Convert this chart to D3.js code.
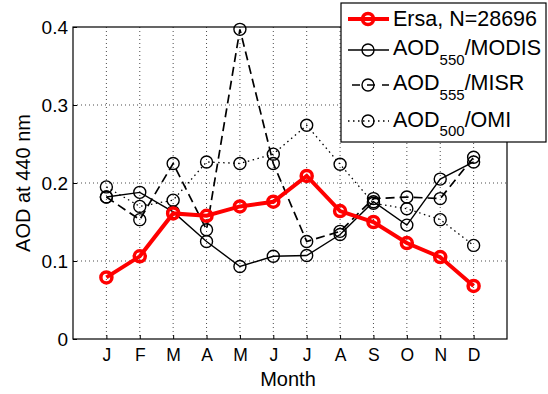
<!DOCTYPE html>
<html><head><meta charset="utf-8">
<script src="https://cdn.jsdelivr.net/npm/d3@7"></script>
<style>body{margin:0;background:#fff}svg{display:block}text{font-family:"Liberation Sans",Arial,sans-serif}</style>
</head><body><svg id="c" width="548" height="394"></svg>
<script>
const months = ["J","F","M","A","M","J","J","A","S","O","N","D"];
const ersa  = [0.079,0.106,0.161,0.158,0.170,0.176,0.209,0.164,0.150,0.123,0.105,0.068];
const modis = [0.182,0.188,0.163,0.125,0.093,0.106,0.107,0.134,0.176,0.146,0.205,0.227];
const misr  = [0.182,0.153,0.225,0.140,0.397,0.225,0.125,0.138,0.180,0.182,0.180,0.233];
const omi   = [0.195,0.170,0.178,0.227,0.225,0.237,0.274,0.224,0.174,0.167,0.153,0.120];
const yTicks = [0,0.1,0.2,0.3,0.4];
const yTickLabels = ["0","0.1","0.2","0.3","0.4"];

const svg = d3.select("#c");
const L=73,R=507,T=27,B=339;
const x = d3.scaleLinear().domain([0,13]).range([L,R]);
const y = d3.scaleLinear().domain([0,0.4]).range([B,T]);
const idx = d3.range(1,13);

// grid
svg.append("g").selectAll("line").data(idx).join("line")
  .attr("x1",d=>x(d)).attr("x2",d=>x(d)).attr("y1",T).attr("y2",B)
  .attr("stroke","#000").attr("stroke-width",1).attr("stroke-dasharray","1,3").attr("opacity",0.7);
svg.append("g").selectAll("line").data(yTicks.slice(1,4)).join("line")
  .attr("x1",L).attr("x2",R).attr("y1",d=>y(d)).attr("y2",d=>y(d))
  .attr("stroke","#000").attr("stroke-width",1).attr("stroke-dasharray","1,3").attr("opacity",0.7);

// axes
const xAxis = d3.axisBottom(x).tickValues(idx).tickFormat(d=>months[d-1]).tickSizeInner(-4).tickSizeOuter(0).tickPadding(10);
const gx = svg.append("g").attr("transform",`translate(0,${B})`).call(xAxis);
const yAxis = d3.axisLeft(y).tickValues(yTicks).tickFormat((d,i)=>yTickLabels[i]).tickSizeInner(-4).tickSizeOuter(0).tickPadding(5);
const gy = svg.append("g").attr("transform",`translate(${L},0)`).call(yAxis);
gx.selectAll("text").attr("font-size",17.5);
gy.selectAll("text").attr("font-size",19);
[gx,gy].forEach(g=>{g.selectAll("text").attr("fill","#000").style("font-family","Liberation Sans, Arial");
  g.select(".domain").remove(); g.selectAll(".tick line").attr("stroke","#000");});
svg.append("rect").attr("x",L).attr("y",T).attr("width",R-L).attr("height",B-T).attr("fill","none").attr("stroke","#000").attr("stroke-width",1.2);

svg.append("text").attr("x",288).attr("y",386).attr("text-anchor","middle").attr("font-size",20).text("Month");
svg.append("text").attr("transform","translate(30,183) rotate(-90)").attr("text-anchor","middle").attr("font-size",20).text("AOD at 440 nm");

const line = d3.line().x((d,i)=>x(i+1)).y(d=>y(d));
function series(data,color,w,dash,r,mw){
  svg.append("path").datum(data).attr("d",line).attr("fill","none").attr("stroke",color).attr("stroke-width",w).attr("stroke-dasharray",dash);
  svg.append("g").selectAll("circle").data(data).join("circle")
    .attr("cx",(d,i)=>x(i+1)).attr("cy",d=>y(d)).attr("r",r)
    .attr("fill","none").attr("stroke",color).attr("stroke-width",mw);
}
series(omi,"#000",1.3,"1.5,3.5",6,1.4);
series(misr,"#000",1.7,"9,5",6,1.4);
series(modis,"#000",1.4,null,6,1.4);
series(ersa,"#f00",4,null,5.5,3.5);

// legend
const lg = svg.append("g");
lg.append("rect").attr("x",341).attr("y",3).attr("width",205).attr("height",139).attr("fill","#fff").attr("stroke","#000").attr("stroke-width",1.2);
const rows=[
  {c:"#f00",w:4,d:null,cy:19,bl:26,r:5.5,mw:3.5,t:"Ersa, N=28696",sub:null,rest:"",x1:348},
  {c:"#000",w:1.4,d:null,cy:50,bl:55,r:6,mw:1.4,t:"AOD",sub:"550",rest:"/MODIS",x1:348},
  {c:"#000",w:1.7,d:"8,7",cy:85,bl:90,r:6,mw:1.4,t:"AOD",sub:"555",rest:"/MISR",x1:352},
  {c:"#000",w:1.3,d:"1.5,3.5",cy:121,bl:126.5,r:6,mw:1.4,t:"AOD",sub:"500",rest:"/OMI",x1:348}
];
rows.forEach(rw=>{
  lg.append("line").attr("x1",rw.x1).attr("x2",389).attr("y1",rw.cy).attr("y2",rw.cy).attr("stroke",rw.c).attr("stroke-width",rw.w).attr("stroke-dasharray",rw.d);
  lg.append("circle").attr("cx",368).attr("cy",rw.cy).attr("r",rw.r).attr("fill","none").attr("stroke",rw.c).attr("stroke-width",rw.mw);
  const t = lg.append("text").attr("x",393).attr("y",rw.bl).attr("font-size",21.5);
  t.append("tspan").text(rw.t);
  if(rw.sub){t.append("tspan").attr("font-size",15).attr("dy",9.5).text(rw.sub);
    t.append("tspan").attr("dy",-9.5).text(rw.rest);}
});
</script></body></html>
